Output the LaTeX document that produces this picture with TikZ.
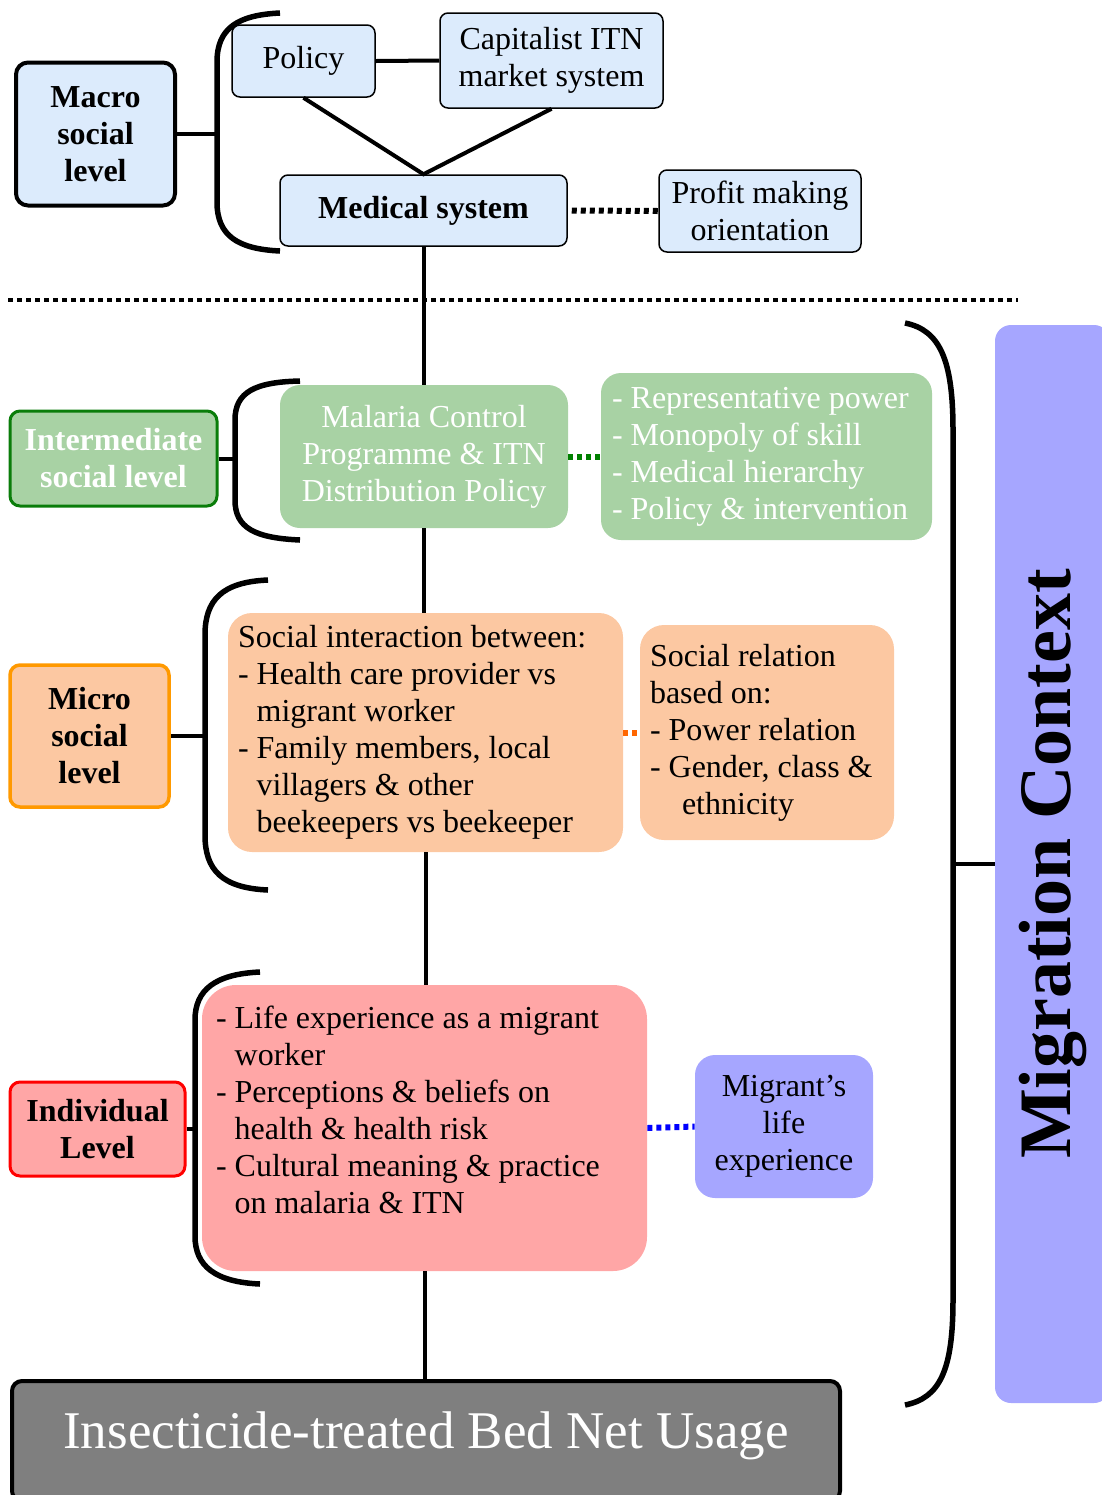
\documentclass[tikz,border=0pt]{standalone}
\usepackage{fontspec}
\setmainfont{Liberation Serif}
\usepackage{xcolor}
\usepackage{tikz}

\begin{document}
\begin{tikzpicture}[x=0.5pt,y=-0.5pt,
  box/.style={draw=drawColor,line width=0.75pt,rounded corners=4pt,fill=blueFill,align=center,inner sep=0pt,font=\fontsize{16}{18.5}\selectfont},
  levelbox/.style={line width=1.5pt,rounded corners=5pt,align=center,inner sep=0pt,font=\bfseries\fontsize{16}{18.5}\selectfont},
  softbox/.style={rounded corners=10pt,inner sep=0pt,font=\fontsize{16}{18.5}\selectfont},
  brace/.style={draw=drawColor,line width=2.75pt},
  link/.style={draw=drawColor,line width=2pt},
  dotlink/.style={line width=3pt,dash pattern=on 2.5pt off 2pt}]
\definecolor{drawColor}{RGB}{0,0,0}
\definecolor{blueFill}{RGB}{220,235,252}
\definecolor{greenFill}{RGB}{168,210,164}
\definecolor{greenLine}{RGB}{10,125,10}
\definecolor{greenDot}{RGB}{0,128,0}
\definecolor{peachFill}{RGB}{252,200,162}
\definecolor{orangeLine}{RGB}{255,153,0}
\definecolor{orangeDot}{RGB}{255,102,0}
\definecolor{pinkFill}{RGB}{255,166,166}
\definecolor{redLine}{RGB}{255,0,0}
\definecolor{blueDot}{RGB}{0,0,255}
\definecolor{lavender}{RGB}{166,166,255}
\definecolor{grayFill}{RGB}{127,127,127}
\path[use as bounding box] (0,0) rectangle (1102,1495);

\node[box,minimum width=79.5pt,minimum height=71.5pt,line width=2pt,rounded corners=6pt,font=\bfseries\fontsize{16}{18.5}\selectfont] (macro) at (95.5,134) {Macro\\social\\level};

\node[box,minimum width=71.5pt,minimum height=36pt] (policy) at (303.5,61) {Policy};

\node[box,minimum width=111.5pt,minimum height=47.5pt] (capital) at (551.5,60.5) {Capitalist ITN\\market system};

\node[box,minimum width=143.5pt,minimum height=35.5pt,font=\bfseries\fontsize{16}{18.5}\selectfont] (medical) at (423.5,210.5) {Medical system};

\node[box,minimum width=101pt,minimum height=41pt] (profit) at (760,211) {Profit making\\orientation};

\node[levelbox,draw=greenLine,fill=greenFill,text=white,minimum width=103.5pt,minimum height=47.5pt] (intermediate) at (113.5,458.5) {Intermediate\\social level};

\node[softbox,fill=greenFill,text=white,align=center,minimum width=144pt,minimum height=71.5pt] (malaria) at (424,456.5) {Malaria Control\\Programme \& ITN\\Distribution Policy};

\node[softbox,fill=greenFill,text=white,align=flush left,inner xsep=5.5pt,text width=154.5pt,minimum height=83.5pt] (power) at (766.5,456.5) {- Representative power\\- Monopoly of skill\\- Medical hierarchy\\- Policy \& intervention};

\node[levelbox,draw=orangeLine,fill=peachFill,line width=1.75pt,minimum width=79.5pt,minimum height=71pt] (micro) at (89.5,736) {Micro\\social\\level};

\node[softbox,fill=peachFill,rounded corners=12pt,align=flush left,inner xsep=5pt,text width=187.5pt,minimum height=119.5pt] (interaction) at (425.5,732.5) {Social interaction between:\\- Health care provider vs\\\phantom{- }migrant worker\\- Family members, local\\\phantom{- }villagers \& other\\\phantom{- }beekeepers vs beekeeper};

\node[softbox,fill=peachFill,rounded corners=12pt,align=flush left,inner xsep=5pt,text width=117pt,minimum height=107.5pt] (relation) at (767,732.5) {Social relation\\based on:\\- Power relation\\- Gender, class \&\\\hspace*{1em}ethnicity};

\node[levelbox,draw=redLine,fill=pinkFill,minimum width=87.5pt,minimum height=47pt] (individual) at (97.5,1129) {Individual\\Level};

\node[softbox,fill=pinkFill,rounded corners=17pt,align=flush left,inner xsep=7pt,text width=208.5pt,minimum height=143pt] (life) at (424.5,1128) {- Life experience as a migrant\\\phantom{- }worker\\- Perceptions \& beliefs on\\\phantom{- }health \& health risk\\- Cultural meaning \& practice\\\phantom{- }on malaria \& ITN\\\mbox{}};

\node[softbox,fill=lavender,align=center,minimum width=89pt,minimum height=71.5pt] (migrant) at (784,1126.5) {Migrant’s\\life\\experience};

\node[draw=drawColor,fill=grayFill,line width=2pt,rounded corners=5pt,text=white,inner sep=0pt,minimum width=414pt,minimum height=60pt,font=\fontsize{26.5}{30}\selectfont] (bednet) at (426,1441) {\raisebox{-3.5pt}[0pt][0pt]{Insecticide-treated Bed Net Usage}};

\node[fill=lavender,rounded corners=8pt,rotate=90,minimum width=539pt,minimum height=57.5pt,inner sep=0pt,font=\bfseries\fontsize{37}{40}\selectfont] (migration) at (1052.5,864) {Migration Context};

\path[brace] (280,13) .. controls (238,15) and (217,28) .. (217,62) -- (217,202) .. controls (217,236) and (238,249) .. (280,251);
\path[brace] (300,381) .. controls (255,382) and (235,392) .. (235,420) -- (235,500) .. controls (235,528) and (255,538) .. (300,540);
\path[brace] (268,580) .. controls (222,582) and (205,600) .. (205,635) -- (205,835) .. controls (205,870) and (222,888) .. (268,890);
\path[brace] (260,972) .. controls (215,974) and (195,990) .. (195,1020) -- (195,1236) .. controls (195,1266) and (215,1282) .. (260,1284);
\path[brace] (905,323) .. controls (940,330) and (953,360) .. (953,430) -- (953,1300) .. controls (953,1370) and (940,1398) .. (905,1405);

\coordinate (macroTip) at (217,134);
\coordinate (intermediateTip) at (235,458.5);
\coordinate (microTip) at (205,736);
\coordinate (individualTip) at (195,1129);
\coordinate (migrationTip) at (953,864);

\path[link] (macro.east) -- (macroTip);
\path[link] (intermediate.east) -- (intermediateTip);
\path[link] (micro.east) -- (microTip);
\path[link] (individual.east) -- (individualTip);
\path[link] (migrationTip) -- (migration.north);

\path[link] (policy.east) -- (capital.west);
\path[link] (policy.south) -- (medical.north) -- (capital.south);

\path[draw=drawColor,line width=2pt] (medical.south) -- (medical.south |- malaria.north);
\path[draw=drawColor,line width=2pt] (malaria.south) -- (malaria.south |- interaction.north);
\path[draw=drawColor,line width=2pt] (interaction.south) -- (interaction.south |- life.north);
\path[draw=drawColor,line width=2pt] (life.south) -- (life.south |- bednet.north);

\path[dotlink,draw=drawColor] ([xshift=2pt]medical.east) -- (profit.west);
\path[dotlink,draw=greenDot] (malaria.east) -- (power.west);
\path[dotlink,draw=orangeDot] (interaction.east) -- (relation.west);
\path[dotlink,draw=blueDot] (life.east) -- (migrant.west);

\path[draw=drawColor,line width=2pt,dash pattern=on 2.5pt off 2pt] (8,300) -- (1018,300);
\end{tikzpicture}
\end{document}
